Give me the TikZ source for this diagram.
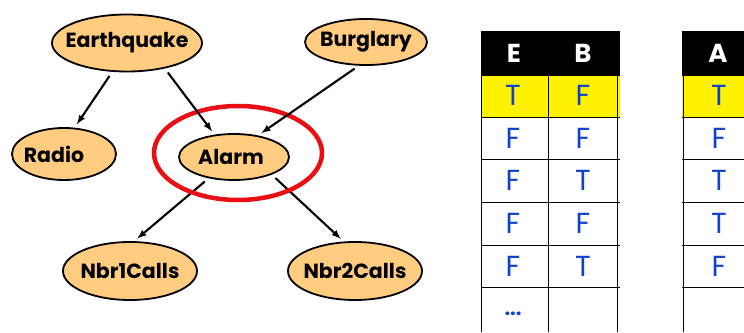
\documentclass[tikz,border=0pt]{standalone}
\usepackage{fontspec}
\setmainfont{Poppins}
\usetikzlibrary{shapes.geometric}

\definecolor{varfill}{RGB}{255,204,128}
\definecolor{ringred}{RGB}{232,16,20}
\definecolor{valblue}{RGB}{16,64,208}

% keep the label from widening its ellipse
\newcommand{\vlabel}[1]{\makebox[0pt]{\raisebox{-2pt}{#1}}}

\begin{document}
\begin{tikzpicture}[x=1pt, y=-1pt,
  var/.style={ellipse, draw, fill=varfill, line width=1.8pt, inner sep=0pt, font=\bfseries\fontsize{20.5}{24}\selectfont},
  arr/.style={-latex, line width=2.1pt, shorten <=5pt, shorten >=4pt},
  val/.style={text=valblue, font=\fontsize{29}{32}\selectfont},
  hdr/.style={text=white, font=\bfseries\fontsize{26}{30}\selectfont}]

\useasboundingbox (0,0) rectangle (744,332);

% Define the network variables
\node[var, minimum width=150, minimum height=57] (eq) at (127,43) {\vlabel{Earthquake}};
\node[var, minimum width=122, minimum height=46] (bu) at (366,42) {\vlabel{Burglary}};
\node[var, minimum width=104, minimum height=52] (ra) at (64,154) {\vlabel{\hspace{-20pt}Radio}};
\node[var, minimum width=110, minimum height=46] (al) at (234,157) {\vlabel{\hspace{-6pt}Alarm}};
\node[var, minimum width=134, minimum height=58] (n1) at (130,271) {\vlabel{Nbr1Calls}};
\node[var, minimum width=134, minimum height=58] (n2) at (355,271) {\vlabel{Nbr2Calls}};

% Edges leaving the alarm
\draw[arr] (al.220) -- (n1.82);
\draw[arr] (al.335) -- (n2.111);

% Ring around the alarm
\node[ellipse, draw=ringred, line width=4.5pt, minimum width=168, minimum height=94] (ring) at (238,153) {};

% Edges into the radio and the alarm
\draw[arr] (eq.243) -- (ra.68);
\draw[arr] (eq.326) -- (al.131);
\draw[arr] (bu.253) -- (al.42);

% Table of sampled values: header and first row
\fill (481,31) rectangle (620,75);
\fill (682,31) rectangle (744,75);
\fill[yellow] (481,75) rectangle (620,117);
\fill[yellow] (682,75) rectangle (744,117);

% Grid lines
\foreach \y in {75,117,159,202,245,287} {
  \draw[line width=0.9pt] (481,\y) -- (620,\y);
  \draw[line width=0.9pt] (682,\y) -- (744,\y);
}
\foreach \x in {481,548,617,683} {
  \draw[line width=0.9pt] (\x,75) -- (\x,332);
}

% Column headers
\node[hdr] (hE) at (514,53) {E};
\node[hdr] (hB) at (583,53) {B};
\node[hdr] (hA) at (718,53) {A};

% Sampled values
\foreach \e [count=\r] in {T,F,F,F,F} {
  \node[val] (e\r) at (513,53+42.6*\r) {\e};
}
\foreach \b [count=\r] in {F,F,T,F,T} {
  \node[val] (b\r) at (583,53+42.6*\r) {\b};
}
\foreach \a [count=\r] in {T,F,T,T,F} {
  \node[val] (a\r) at (719,53+42.6*\r) {\a};
}
\node[text=valblue, font=\bfseries\fontsize{20}{22}\selectfont] (dots) at (513,314) {...};

\end{tikzpicture}
\end{document}
